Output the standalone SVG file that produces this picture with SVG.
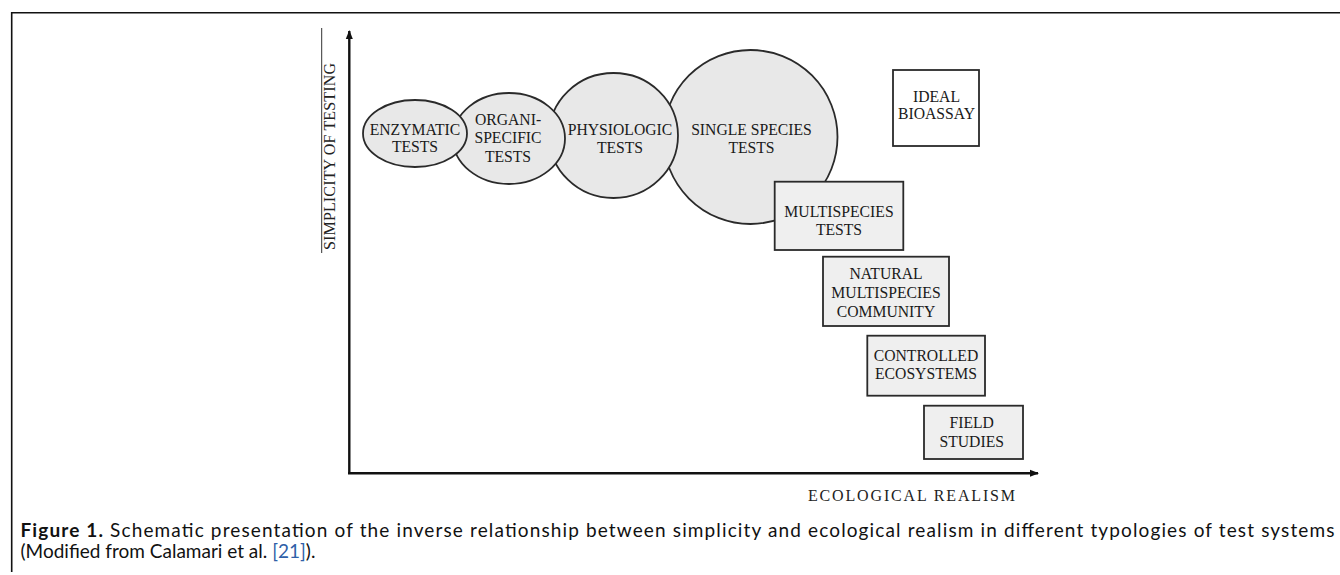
<svg xmlns="http://www.w3.org/2000/svg" width="1340" height="575" viewBox="0 0 1340 575">
<style>
.frame{fill:none;stroke:#111;stroke-width:1.6}
.axis{stroke:#111;stroke-width:2.4;fill:none}
.ell{fill:#e8e8e8;stroke:#2a2a2a;stroke-width:1.8}
.box{fill:#efefef;stroke:#2a2a2a;stroke-width:1.8}
.boxw{fill:#ffffff;stroke:#2a2a2a;stroke-width:1.8}
.t{font-family:"Liberation Serif","Times New Roman",serif;font-size:15.7px;fill:#1a1a1a;text-anchor:middle}
.ax{font-family:"Liberation Serif","Times New Roman",serif;font-size:16px;fill:#222}
.cap{font-family:Lato,"Noto Sans","Liberation Sans",sans-serif;font-size:19px;fill:#111}
</style>
<defs>
<marker id="arr" markerWidth="10" markerHeight="10" refX="8" refY="5" orient="auto" markerUnits="userSpaceOnUse">
<path d="M0,1.5 L9,5 L0,8.5 Z" fill="#111"/>
</marker>
</defs>
<rect x="0" y="0" width="1340" height="575" fill="#fff"/>
<path class="frame" d="M11.7 572 V12.7 H1340"/>

<g id="axes">
<line class="axis" x1="349.3" y1="474" x2="349.3" y2="31" marker-end="url(#arr)"/>
<line class="axis" x1="348" y1="473.3" x2="1038" y2="473.3" marker-end="url(#arr)"/>
<line x1="321.7" y1="28" x2="321.7" y2="253" stroke="#333" stroke-width="1"/>
<text class="ax" transform="translate(335,156.5) rotate(-90)" text-anchor="middle" textLength="187" lengthAdjust="spacing">SIMPLICITY  OF  TESTING</text>
<text class="ax" x="808" y="500.5" textLength="207" lengthAdjust="spacing">ECOLOGICAL  REALISM</text>
</g>

<g id="single-species">
<circle class="ell" cx="750.5" cy="137" r="87"/>
<text class="t" x="751.5" y="135">SINGLE SPECIES</text>
<text class="t" x="751.5" y="153.3">TESTS</text>
</g>
<g id="physiologic">
<ellipse class="ell" cx="613.5" cy="135.5" rx="64.5" ry="62.5"/>
<text class="t" x="620" y="135">PHYSIOLOGIC</text>
<text class="t" x="620" y="152.7">TESTS</text>
</g>
<g id="organ-specific">
<ellipse class="ell" cx="509" cy="138.5" rx="56" ry="45.5"/>
<text class="t" x="508" y="125">ORGANI-</text>
<text class="t" x="508" y="143.3">SPECIFIC</text>
<text class="t" x="508" y="161.7">TESTS</text>
</g>
<g id="enzymatic">
<ellipse class="ell" cx="415" cy="133.5" rx="52" ry="33.5"/>
<text class="t" x="415" y="135">ENZYMATIC</text>
<text class="t" x="415" y="152.3">TESTS</text>
</g>

<g id="ideal-bioassay">
<rect class="boxw" x="893" y="70" width="86" height="76"/>
<text class="t" x="936.5" y="101.7">IDEAL</text>
<text class="t" x="936.5" y="119.3">BIOASSAY</text>
</g>
<g id="multispecies">
<rect class="box" x="774.7" y="181.7" width="128.6" height="68.3"/>
<text class="t" x="839" y="216.7">MULTISPECIES</text>
<text class="t" x="839" y="235">TESTS</text>
</g>
<g id="natural">
<rect class="box" x="823" y="256.7" width="126" height="69.3"/>
<text class="t" x="886" y="279.3">NATURAL</text>
<text class="t" x="886" y="298.3">MULTISPECIES</text>
<text class="t" x="886" y="316.7">COMMUNITY</text>
</g>
<g id="controlled">
<rect class="box" x="867.3" y="335.7" width="117.7" height="60"/>
<text class="t" x="926" y="360.7">CONTROLLED</text>
<text class="t" x="926" y="379">ECOSYSTEMS</text>
</g>
<g id="field">
<rect class="box" x="924" y="405.7" width="99" height="53.3"/>
<text class="t" x="971.7" y="428.3">FIELD</text>
<text class="t" x="971.7" y="446.7">STUDIES</text>
</g>

<g id="caption">
<text class="cap" x="20.5" y="537" textLength="1314" lengthAdjust="spacing"><tspan font-weight="bold">Figure 1.</tspan> Schematic presentation of the inverse relationship between simplicity and ecological realism in different typologies of test systems</text>
<text class="cap" x="20.5" y="557.5">(Modified from Calamari et al. <tspan fill="#2f5fa8">[21]</tspan>).</text>
</g>
</svg>
